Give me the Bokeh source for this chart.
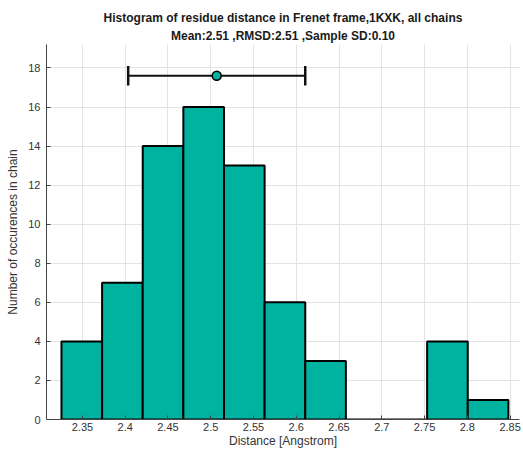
import numpy as np
from bokeh.plotting import figure
from bokeh.models import Title, FixedTicker, ColumnDataSource, Range1d
from bokeh.embed import file_html
from bokeh.resources import INLINE

# data
counts = [4, 7, 14, 16, 13, 6, 3, 0, 0, 4, 1]
bin_min = 2.3255
bin_max = 2.848
mean_val = 2.507
sd_val = 0.1035
err_y = 17.6
x_ticks = [2.35, 2.4, 2.45, 2.5, 2.55, 2.6, 2.65, 2.7, 2.75, 2.8, 2.85]
x_tick_labels = ["2.35", "2.4", "2.45", "2.5", "2.55", "2.6", "2.65", "2.7", "2.75", "2.8", "2.85"]
y_ticks = [0, 2, 4, 6, 8, 10, 12, 14, 16, 18]

title1 = "Histogram of residue distance in Frenet frame,1KXK, all chains"
title2 = "Mean:2.51 ,RMSD:2.51 ,Sample SD:0.10"

edges = np.linspace(bin_min, bin_max, len(counts) + 1)
FILL = "#00b3a0"
FONT = "Liberation Sans"

p = figure(width=523, height=450, output_backend="svg", toolbar_location=None,
           x_range=Range1d(2.308, 2.861), y_range=Range1d(0, 19.2),
           min_border_left=46, min_border_right=4, min_border_bottom=27, min_border_top=44)

p.title.text = title1
p.title.align = "center"
p.title.text_font = FONT
p.title.text_font_size = "12px"
p.title.text_font_style = "bold"
p.title.text_color = "#1a1a1a"
p.title.text_line_height = 0.8
p.title.standoff = 0
t2 = Title(text=title2, align="center", text_font=FONT, text_font_size="12px",
           text_font_style="bold", text_color="#1a1a1a", text_line_height=0.8, standoff=4)
p.add_layout(t2, "above")

src = ColumnDataSource(dict(left=edges[:-1], right=edges[1:], top=counts))
p.quad(left="left", right="right", bottom=0, top="top", source=src,
       fill_color=FILL, line_color="black", line_width=2)

# error bar
p.segment(x0=[mean_val - sd_val], x1=[mean_val + sd_val], y0=[err_y], y1=[err_y],
          line_color="#111111", line_width=2)
p.segment(x0=[mean_val - sd_val, mean_val + sd_val], x1=[mean_val - sd_val, mean_val + sd_val],
          y0=[err_y - 0.5, err_y - 0.5], y1=[err_y + 0.5, err_y + 0.5],
          line_color="#111111", line_width=2.5)
p.scatter(x=[mean_val], y=[err_y], size=9, fill_color=FILL, line_color="black", line_width=1.5)

p.xaxis.ticker = FixedTicker(ticks=x_ticks)
p.xaxis.major_label_overrides = {t: l for t, l in zip(x_ticks, x_tick_labels)}
p.yaxis.ticker = FixedTicker(ticks=y_ticks)
for ax in (p.xaxis, p.yaxis):
    ax.major_tick_in = 4
    ax.major_tick_out = 0
    ax.minor_tick_line_color = None
    ax.axis_line_color = "#444444"
    ax.major_tick_line_color = "#444444"
    ax.major_label_text_font = FONT
    ax.major_label_text_font_size = "11px"
    ax.major_label_text_color = "#333333"
    ax.axis_label_text_font = FONT
    ax.axis_label_text_font_size = "12px"
    ax.axis_label_text_font_style = "normal"
    ax.axis_label_text_color = "#333333"
p.xaxis.axis_label = "Distance [Angstrom]"
p.yaxis.axis_label = "Number of occurences in chain"
p.xaxis.major_label_standoff = 3
p.xaxis.axis_label_standoff = 0
p.yaxis.major_label_standoff = 6
p.yaxis.axis_label_standoff = 5

p.xgrid.ticker = FixedTicker(ticks=x_ticks)
p.ygrid.ticker = FixedTicker(ticks=y_ticks)
p.grid.grid_line_color = "#e3e3e3"
p.grid.grid_line_width = 1
p.outline_line_color = None
p.background_fill_color = "white"

open("out.html", "w").write(file_html(p, INLINE))
